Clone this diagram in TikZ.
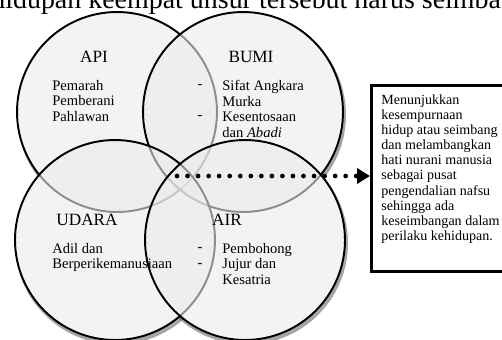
\documentclass[tikz,border=0pt]{standalone}
\usepackage{fontspec}
\setmainfont{Liberation Serif}
\usetikzlibrary{arrows.meta,fadings}
\tikzset{
  unsur/.style={circle, draw=black, line width=1.1pt, fill=gray!16,
    fill opacity=0.6, text opacity=1, minimum size=4cm, inner sep=0pt},
  judul/.style={font=\fontsize{9.8}{10}\selectfont, inner sep=0pt},
  isi/.style={font=\fontsize{8.3}{8.8}\selectfont, align=left,
    inner sep=0pt, anchor=north west},
  strip/.style={font=\fontsize{8.2}{8.8}\selectfont, inner sep=0pt},
  titik/.style={line width=2.7pt, line cap=round, dash pattern=on 0pt off 6pt,
    -{Triangle[length=0.26cm, width=0.3cm]}},
}
\begin{document}
\begin{tikzpicture}[x=0.02cm, y=-0.02cm]
\useasboundingbox (0,0) rectangle (502,339);
\clip (0,0) rectangle (502,339);
\node[anchor=base west, inner sep=0pt, font=\fontsize{15.9}{18}\selectfont]
  (atas) at (-9,8) {hidupan keempat unsur tersebut harus seimba};
\foreach \p in {(117,112),(243,112),(115,240),(245,240)}
  \fill[black!70, opacity=0.5] \p ++(1.5,3) circle (101.5);
\foreach \p in {(117,112),(243,112),(115,240),(245,240)}
  \fill[white] \p circle (100);
\node[unsur] (api) at (117,112) {};
\node[unsur] (bumi) at (243,112) {};
\node[unsur] (udara) at (115,240) {};
\node[unsur] (air) at (245,240) {};
\node[judul] (tapi) at (94,57) {API};
\node[judul] (tbumi) at (251,57) {BUMI};
\node[judul] (tudara) at (87,220) {UDARA};
\node[judul] (tair) at (227,220) {AIR};
\node[isi] (lapi) at (52,80) {Pemarah\\Pemberani\\Pahlawan};
\node[isi] (lbumi) at (222,80) {Sifat Angkara\\Murka\\Kesentosaan\\dan \textit{Abadi}};
\node[isi] (ludara) at (52,243) {Adil dan\\Berperikemanusiaan};
\node[isi] (lair) at (222,243) {Pembohong\\Jujur dan\\Kesatria};
\node[strip] (s1) at (200,87) {-};
\node[strip] (s2) at (200,118) {-};
\node[strip] (s3) at (200,250) {-};
\node[strip] (s4) at (200,266) {-};
\node[draw, line width=1.7pt, fill=white, anchor=north west,
  minimum width=3cm, minimum height=3.72cm] (kotak) at (370,84) {};
\node[isi, font=\fontsize{8}{8.63}\selectfont] (teks) at (381,94)
  {Menunjukkan\\kesempurnaan\\hidup atau seimbang\\dan melambangkan\\hati nurani manusia\\sebagai pusat\\pengendalian nafsu\\sehingga ada\\keseimbangan dalam\\perilaku kehidupan.};
\coordinate (awal) at (177,176);
\draw[titik] (awal) -- (awal -| kotak.west);
\end{tikzpicture}
\end{document}
